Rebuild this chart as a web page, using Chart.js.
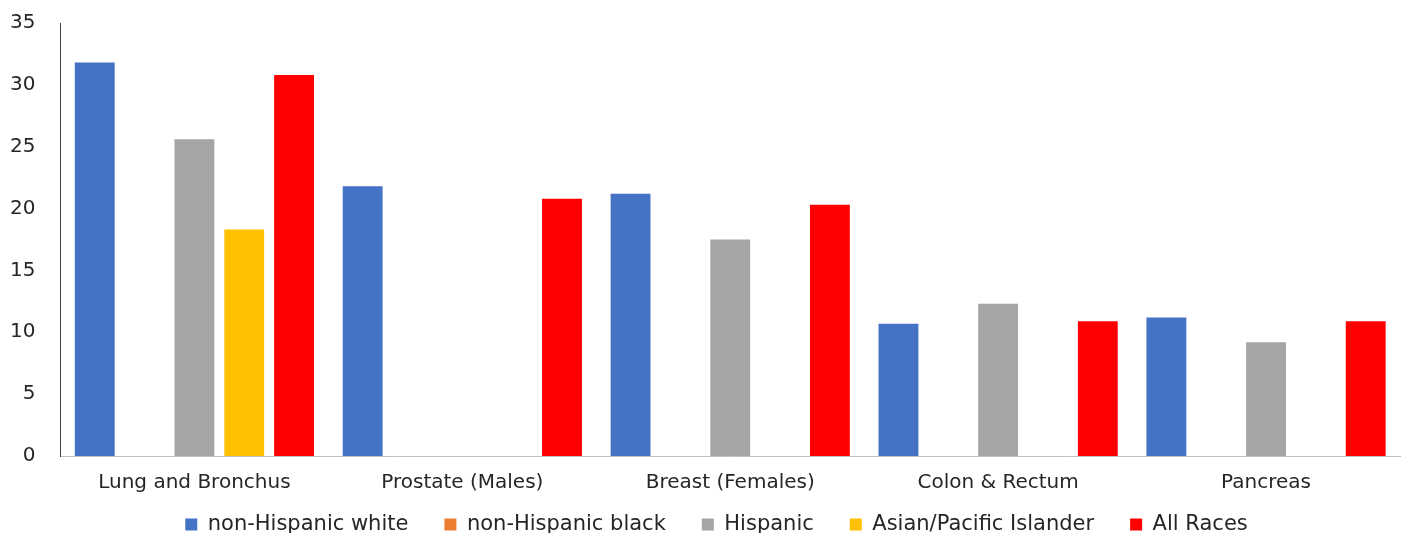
<!DOCTYPE html>
<html>
<head>
<meta charset="utf-8">
<script src="https://cdn.jsdelivr.net/npm/chart.js@4.4.0/dist/chart.umd.min.js"></script>
<style>
  html, body { margin: 0; padding: 0; background: #fff; }
  #wrap { width: 1402px; height: 533px; }
</style>
</head>
<body>
<div id="wrap"><canvas id="myChart" width="1402" height="533"></canvas></div>
<script>
const categories = ["Lung and Bronchus", "Prostate (Males)", "Breast (Females)", "Colon & Rectum", "Pancreas"];
const yTicks = [0, 5, 10, 15, 20, 25, 30, 35];

const white = [31.8, 21.8, 21.2, 10.7, 11.2];
const black = [null, null, null, null, null];
const hispanic = [25.6, null, 17.5, 12.3, 9.2];
const asian = [18.3, null, null, null, null];
const allRaces = [30.8, 20.8, 20.3, 10.9, 10.9];

const fontFam = "'DejaVu Sans', sans-serif";
const legendPad = 36;
const legendCenterY = 524;
const legendShiftX = 20;

// legend items are spaced wide, so pull the legend box down to sit under the labels
const moveLegend = {
    id: 'moveLegend',
    afterLayout(chart) {
        const lg = chart.legend;
        const h = lg.bottom - lg.top;
        lg.top = legendCenterY - legendPad - 10;
        lg.bottom = lg.top + h;
        lg.left += legendShiftX;
        lg.right += legendShiftX;
    }
};

const ctx = document.getElementById('myChart').getContext('2d');
const myChart = new Chart(ctx, {
    type: "bar",
    data: {
        labels: categories,
        datasets: [
            { label: 'non-Hispanic white', data: white, backgroundColor: '#4472C4' },
            { label: 'non-Hispanic black', data: black, backgroundColor: '#ED7D31' },
            { label: 'Hispanic', data: hispanic, backgroundColor: '#A5A5A5' },
            { label: 'Asian/Pacific Islander', data: asian, backgroundColor: '#FFC000' },
            { label: 'All Races', data: allRaces, backgroundColor: '#FF0000' }
        ]
    },
    plugins: [moveLegend],
    options: {
        responsive: false,
        animation: false,
        barPercentage: 0.8,
        categoryPercentage: 0.93,
        layout: { padding: { top: -19, right: 2, left: -7, bottom: -36 } },
        plugins: {
            legend: {
                position: 'bottom',
                labels: {
                    boxWidth: 12,
                    boxHeight: 12,
                    padding: legendPad,
                    color: '#262626',
                    font: { family: fontFam, size: 21 }
                }
            },
            tooltip: { enabled: false }
        },
        scales: {
            x: {
                grid: { display: false },
                border: { display: true, color: '#BFBFBF', width: 1 },
                ticks: {
                    color: '#262626',
                    padding: 7,
                    font: { family: fontFam, size: 20 }
                }
            },
            y: {
                min: 0,
                max: 35,
                afterBuildTicks: (axis) => { axis.ticks = yTicks.map(v => ({ value: v })); },
                grid: { display: false },
                border: { display: true, color: '#404040', width: 1 },
                ticks: {
                    color: '#262626',
                    padding: 17,
                    font: { family: fontFam, size: 20, lineHeight: 0.6 }
                }
            }
        }
    }
});
</script>
</body>
</html>
